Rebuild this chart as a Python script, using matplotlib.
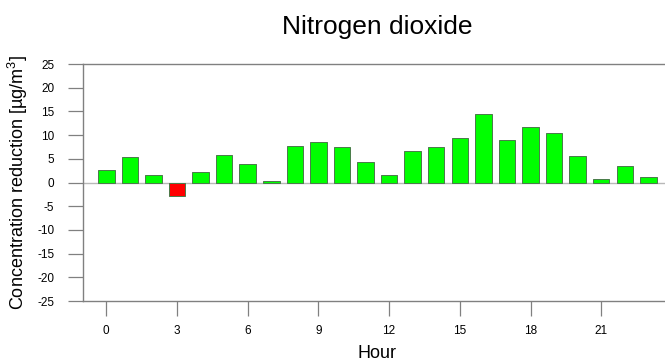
import matplotlib
matplotlib.use("Agg")
import matplotlib.pyplot as plt

hours = list(range(24))
values = [2.6, 5.3, 1.55, -2.95, 2.25, 5.7, 3.8, 0.3, 7.7, 8.65, 7.4, 4.4,
          1.55, 6.75, 7.5, 9.3, 14.4, 9.0, 11.8, 10.35, 5.6, 0.7, 3.45, 1.1]
xticks = [0, 3, 6, 9, 12, 15, 18, 21]
yticks = list(range(-25, 30, 5))
title = "Nitrogen dioxide"
xlabel = "Hour"
ylabel = "Concentration reduction [µg/m$^3$]"

plt.rcParams['font.family'] = ['Liberation Sans', 'DejaVu Sans']
plt.rcParams['axes.unicode_minus'] = False
plt.rcParams['mathtext.fontset'] = 'custom'
plt.rcParams['mathtext.rm'] = 'Liberation Sans'

fig = plt.figure(figsize=(6.65, 3.61), dpi=100)
ax = fig.add_axes([0.1244, 0.1662, 0.886, 0.6565])

colors = ['#00ff00' if v >= 0 else '#ff0000' for v in values]
ax.axhline(0, color='#b8b8b8', lw=1.0, zorder=1)
ax.bar(hours, values, width=0.7, color=colors, edgecolor='#4a7a4a',
       linewidth=0.7, zorder=2)

ax.set_xlim(-1, 24)
ax.set_ylim(-25, 25)
ax.set_xticks(xticks)
ax.set_yticks(yticks)
ax.tick_params(axis='both', direction='out', length=10.5, width=0.9,
               color='#808080', labelsize=8.5)
ax.tick_params(axis='y', pad=10)
ax.tick_params(axis='x', pad=7)
for s in ['left', 'bottom', 'top']:
    ax.spines[s].set_color('#808080')
    ax.spines[s].set_linewidth(1.0)
ax.spines['right'].set_visible(False)

ax.set_xlabel(xlabel, fontsize=13, labelpad=5.5)
ax.set_ylabel(ylabel, fontsize=13, labelpad=5)
fig.text(377 / 665, 1 - 27 / 361, title, fontsize=19, ha='center', va='center')

fig.savefig('out.png', dpi=100)
